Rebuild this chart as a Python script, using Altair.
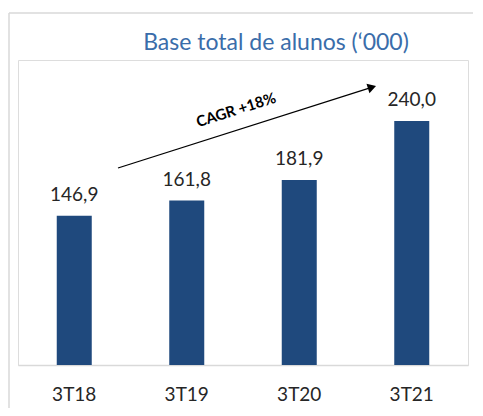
import altair as alt
import pandas as pd

categories = ["3T18", "3T19", "3T20", "3T21"]
values = [146.9, 161.8, 181.9, 240.0]
value_labels = ["146,9", "161,8", "181,9", "240,0"]
title_text = "Base total de alunos (\u2018000)"
cagr_text = "CAGR +18%"

df = pd.DataFrame({"cat": categories, "val": values, "lbl": value_labels})

FONT = "Lato"
BAR = "#1F497D"

x = alt.X("cat:N", sort=categories,
          scale=alt.Scale(paddingInner=0.69, paddingOuter=0.345),
          axis=alt.Axis(title=None, labelAngle=0, ticks=False, tickSize=0,
                        domainColor="#d9d9d9", domainWidth=1.5,
                        labelFont=FONT, labelFontSize=19, labelColor="#262626",
                        labelBaseline="alphabetic", labelPadding=35))
y = alt.Y("val:Q", scale=alt.Scale(domain=[0, 300], nice=False), axis=None)

base = alt.Chart(df)
bars = base.mark_bar(color=BAR, size=35).encode(x=x, y=y)
labels = base.mark_text(font=FONT, fontSize=19, color="#262626",
                        baseline="alphabetic", dy=-15).encode(x=x, y=y, text="lbl:N")

one = pd.DataFrame({"t": [title_text]})
title = alt.Chart(one).mark_text(font=FONT, fontSize=23, color="#3A6DAA",
                                 align="center", baseline="alphabetic").encode(
    x=alt.value(258), y=alt.value(-10), text="t:N")

arrow_line = alt.Chart(one).mark_rule(color="black", strokeWidth=1.3).encode(
    x=alt.value(100), y=alt.value(108), x2=alt.value(352), y2=alt.value(27.8))
arrow_head = alt.Chart(one).mark_point(shape="triangle-right", filled=True, color="black",
                                       size=95, angle=342.3, opacity=1).encode(
    x=alt.value(354), y=alt.value(27.2))
cagr = alt.Chart(pd.DataFrame({"t": [cagr_text]})).mark_text(
    font=FONT, fontSize=15, fontWeight="bold", color="black", angle=342.3,
    align="center", baseline="middle").encode(x=alt.value(218), y=alt.value(50), text="t:N")

frame_v = alt.Chart(one).mark_rule(color="#d9d9d9", strokeWidth=1.5).encode(
    x=alt.value(-9), y=alt.value(-47), y2=alt.value(360))
frame_h = alt.Chart(one).mark_rule(color="#d9d9d9", strokeWidth=1.5).encode(
    x=alt.value(-9), x2=alt.value(460), y=alt.value(-47))

chart = alt.layer(frame_v, frame_h, bars, labels, title, arrow_line, arrow_head, cagr).properties(
    width=450, height=305,
    autosize=alt.AutoSizeParams(type="none"),
    padding={"left": 10, "top": 52, "right": 5, "bottom": 43},
).configure_view(stroke=None).configure(background="white")

chart.save("out.html", embed_options={"renderer": "svg", "actions": False})
